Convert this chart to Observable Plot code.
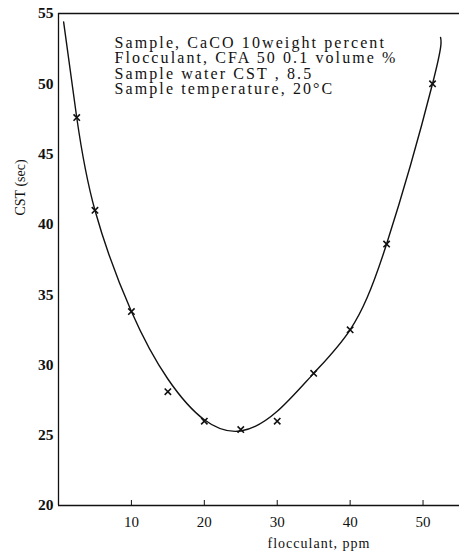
<!DOCTYPE html>
<html>
<head>
<meta charset="utf-8">
<script src="https://cdn.jsdelivr.net/npm/d3@7"></script>
<script src="https://cdn.jsdelivr.net/npm/@observablehq/plot@0.6"></script>
<style>
  html, body { margin: 0; padding: 0; background: #fff; }
  #chart svg { display: block; }
</style>
</head>
<body>
<div id="chart"></div>
<script>
// measured points (flocculant ppm -> CST sec)
const pointX = [2.5, 5, 10, 15, 20, 25, 30, 35, 40, 45, 51.3];
const pointY = [47.6, 41.0, 33.8, 28.1, 26.0, 25.4, 26.0, 29.4, 32.5, 38.6, 50.0];
// fitted curve
const curveX = [0.7, 2.5, 5, 10, 15, 20, 25, 30, 35, 40, 45, 51.3, 52.4];
const curveY = [54.4, 47.6, 41.0, 33.8, 29.0, 26.1, 25.3, 26.7, 29.4, 32.5, 38.6, 50.0, 53.3];
const xTicks = [10, 20, 30, 40, 50];
const yTicks = [20, 25, 30, 35, 40, 45, 50, 55];
const notes = [
  "Sample, CaCO 10weight percent",
  "Flocculant, CFA 50 0.1 volume %",
  "Sample water CST , 8.5",
  "Sample temperature, 20°C"
];
const xLabel = "flocculant, ppm";
const yLabel = "CST (sec)";

const points = pointX.map((x, i) => ({x, y: pointY[i]}));
const curve = curveX.map((x, i) => ({x, y: curveY[i]}));

const chart = Plot.plot({
  width: 459,
  height: 551,
  marginTop: 13,
  marginBottom: 46,
  marginLeft: 58,
  marginRight: 0,
  style: {fontFamily: "Liberation Serif, serif", fontSize: "15px", color: "#111", background: "#fff"},
  x: {domain: [0, 55]},
  y: {domain: [20, 55]},
  marks: [
    Plot.ruleY([55], {stroke: "#111", strokeWidth: 1.3}),
    Plot.ruleY([20], {stroke: "#111", strokeWidth: 1.5}),
    Plot.ruleX([0], {stroke: "#111", strokeWidth: 1.3}),
    Plot.axisY(yTicks, {anchor: "left", tickSize: -5, tickPadding: 10, label: null, fontSize: 15.5, fontWeight: "bold", stroke: null, color: "#111"}),
    Plot.axisX(xTicks, {anchor: "bottom", tickSize: -5, tickPadding: 16, label: null, fontSize: 15, color: "#111"}),
    Plot.line(curve, {x: "x", y: "y", curve: "natural", stroke: "#111", strokeWidth: 1.4}),
    Plot.dot(points, {x: "x", y: "y", symbol: "times", r: 3, stroke: "#111", strokeWidth: 1.6}),
    Plot.text([notes.join("\n")], {frameAnchor: "top-left", dx: 56, dy: 23, textAnchor: "start", lineAnchor: "top", lineHeight: 0.97, fontSize: 16, fill: "#111"}),
    Plot.text([xLabel], {frameAnchor: "bottom", dx: 60, dy: 38, lineAnchor: "middle", fontSize: 14, fill: "#111"}),
    Plot.text([yLabel], {frameAnchor: "left", dx: -38, dy: -44, rotate: -90, lineAnchor: "middle", fontSize: 14, fill: "#111"})
  ]
});
// widen the annotation lettering like the typewritten original
d3.select(chart).selectAll("text").filter(function () {
  return this.textContent.startsWith("Sample,");
}).style("letter-spacing", "2.1px");
d3.select(chart).selectAll("text").filter(function () {
  return this.textContent === xLabel;
}).style("letter-spacing", "1px");
document.getElementById("chart").appendChild(chart);
</script>
</body>
</html>
